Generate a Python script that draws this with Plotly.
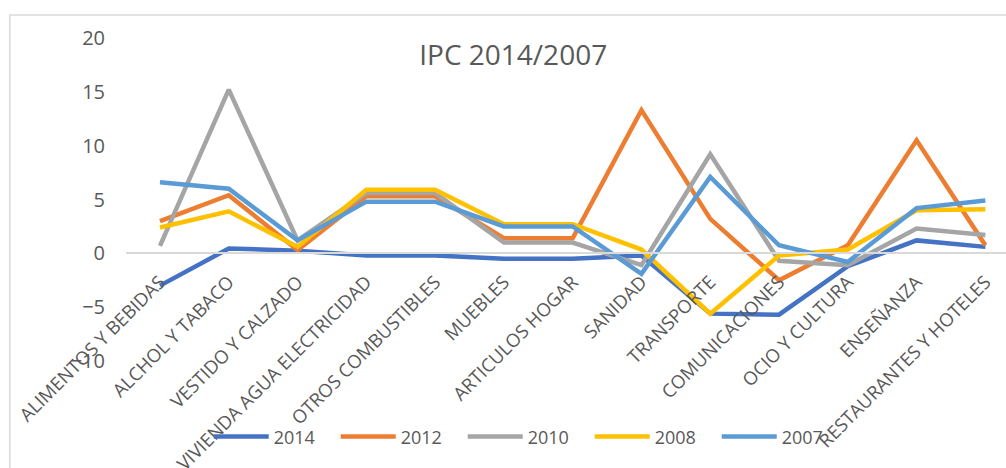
import plotly.graph_objects as go

# === Datos IPC por grupo
categorias = [
    'ALIMENTOS Y BEBIDAS', 'ALCHOL Y TABACO', 'VESTIDO Y CALZADO',
    'VIVIENDA AGUA ELECTRICIDAD', 'OTROS COMBUSTIBLES', 'MUEBLES',
    'ARTICULOS HOGAR', 'SANIDAD', 'TRANSPORTE', 'COMUNICACIONES',
    'OCIO Y CULTURA', 'ENSEÑANZA', 'RESTAURANTES Y HOTELES'
]
ipc_2014 = [-3.0, 0.45, 0.25, -0.2, -0.2, -0.5, -0.5, -0.2, -5.6, -5.7, -1.2, 1.2, 0.6]
ipc_2012 = [3.0, 5.4, 0.3, 5.3, 5.3, 1.4, 1.4, 13.3, 3.2, -2.5, 0.75, 10.5, 0.75]
ipc_2010 = [0.7, 15.2, 1.2, 5.6, 5.6, 1.0, 1.0, -1.1, 9.2, -0.7, -1.1, 2.3, 1.7]
ipc_2008 = [2.4, 3.9, 0.6, 5.9, 5.9, 2.7, 2.7, 0.35, -5.6, -0.2, 0.35, 4.0, 4.1]
ipc_2007 = [6.6, 6.0, 1.2, 4.8, 4.8, 2.5, 2.5, -1.9, 7.1, 0.75, -0.8, 4.2, 4.9]

series = [
    ('2014', ipc_2014, '#4472C4'),
    ('2012', ipc_2012, '#ED7D31'),
    ('2010', ipc_2010, '#A5A5A5'),
    ('2008', ipc_2008, '#FFC000'),
    ('2007', ipc_2007, '#5B9BD5'),
]

gris_texto = '#595959'
fuente = 'Open Sans'

fig = go.Figure()
for nombre, valores, color in series:
    fig.add_trace(go.Scatter(x=categorias, y=valores, mode='lines', name=nombre,
                             line=dict(color=color, width=4.5)))

# marco del gráfico (estilo Excel)
fig.add_shape(type='rect', xref='paper', yref='paper',
              x0=-0.132, x1=1.05, y0=-0.4, y1=1.071,
              line=dict(color='#D9D9D9', width=1.5), layer='below')

fig.update_layout(
    width=1006, height=468,
    margin=dict(l=126, r=0, t=38, b=107),
    paper_bgcolor='white', plot_bgcolor='white',
    title=dict(text='IPC 2014/2007', x=0.44, xref='paper', xanchor='center',
               y=0.882, yref='container', yanchor='middle',
               font=dict(family=fuente, size=28, color=gris_texto)),
    font=dict(family=fuente, color=gris_texto),
    showlegend=True,
    legend=dict(orientation='h', x=0.094, xanchor='left', y=-0.235, yanchor='middle',
                itemwidth=55, entrywidth=57, entrywidthmode='pixels',
                bgcolor='rgba(0,0,0,0)',
                font=dict(family=fuente, size=18, color=gris_texto)),
    xaxis=dict(type='category', range=[-0.494, 12.3], anchor='free', position=1/3,
               showline=True, linecolor='#D9D9D9', linewidth=1.5, automargin=False,
               showgrid=False, zeroline=False, ticks='', ticklabelstandoff=10,
               tickangle=-45, tickfont=dict(family=fuente, size=18.5, color=gris_texto)),
    yaxis=dict(range=[-10, 20], dtick=5, showgrid=False, zeroline=False,
               showline=False, ticklabelstandoff=20, automargin=False,
               tickfont=dict(family=fuente, size=20, color=gris_texto)),
)

# sin margen del body para que la figura ocupe la ventana completa
fig.write_html('out.html', config={'displayModeBar': False},
               post_script="document.body.style.margin='0';")
